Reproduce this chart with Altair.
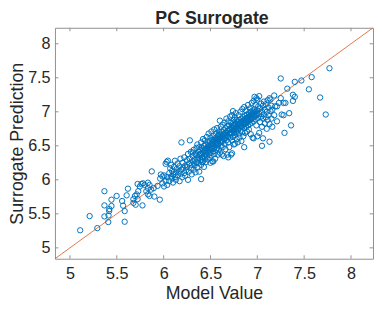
import altair as alt
import pandas as pd

# ---- data (model value, surrogate prediction) ----
pts_low = [(5.109,5.258),(5.21,5.467),(5.292,5.29),(5.368,5.833),(5.368,5.624),(5.368,5.462),
           (5.409,5.379),(5.412,5.476),(5.419,5.541),(5.42,5.57),(5.443,5.708),(5.443,5.615),
           (5.498,5.763),(5.557,5.689),(5.567,5.62),(5.584,5.541),(5.584,5.384),(5.605,5.772),
           (5.619,5.87),(5.677,5.717),(5.677,5.661),(5.694,5.763),(5.701,5.634),(5.712,5.786),
           (5.722,5.939),(5.722,5.717),(5.729,5.833),(5.746,5.902),(5.763,5.939),(5.774,5.624),
           (5.780,5.948),(5.798,5.925),(5.815,5.833),(5.832,5.958),(5.832,5.879),(5.832,5.786),
           (5.849,5.925),(5.849,5.763),(5.866,5.856),(5.873,6.124),(5.894,5.879),(5.901,5.754),
           (5.935,5.911),(5.959,5.708),(5.963,6.018),(5.970,6.078),(5.987,6.050),(5.987,5.948),
           (6.004,6.064),(6.004,5.902),(6.021,6.235),(6.021,5.985),(6.032,6.263),(6.038,6.041),
           (6.038,5.925),(6.045,6.282)]

pts_b = [(6.06,6.10),(6.06,5.98),(6.07,6.17),(6.08,6.05),(6.08,6.22),(6.09,6.02),(6.09,6.13),
         (6.10,5.96),(6.10,6.08),(6.11,6.19),(6.12,6.04),(6.12,6.28),(6.13,6.11),(6.13,6.00),
         (6.14,6.16),(6.15,6.07),(6.15,6.24),(6.16,6.12),(6.17,5.98),(6.17,6.20),(6.18,6.09),
         (6.18,6.31),(6.19,6.55),(6.19,6.15),(6.20,6.04),(6.20,6.25),(6.21,6.18),(6.22,6.10),
         (6.22,6.33),(6.23,6.21),(6.23,6.06),(6.24,6.14),(6.25,6.29),(6.25,6.19),(6.26,6.00),
         (6.26,6.38),(6.27,6.12),(6.27,6.24),(6.28,6.58),(6.28,6.31),(6.29,6.17),(6.29,6.41),
         (6.30,6.22),(6.30,6.08),(6.31,6.35),(6.31,6.27),(6.32,6.15),(6.32,6.44),(6.33,6.30),
         (6.33,6.21),(6.34,6.38),(6.34,6.11),(6.35,6.26),(6.35,6.47)]

pts_c = [(6.36,6.30),(6.36,6.52),(6.36,6.18),(6.37,6.41),(6.37,6.25),(6.38,6.36),(6.38,6.48),
         (6.38,6.12),(6.39,6.29),(6.39,6.44),(6.40,6.01),(6.40,6.38),(6.40,6.55),(6.40,6.22),
         (6.41,6.33),(6.41,6.47),(6.42,6.40),(6.42,6.27),(6.42,6.60),(6.43,6.35),(6.43,6.50),
         (6.43,6.19),(6.44,6.44),(6.44,6.31),(6.44,6.58),(6.45,6.39),(6.45,6.52),(6.45,6.26),
         (6.46,6.46),(6.46,6.35),(6.46,6.63),(6.47,6.41),(6.47,6.55),(6.47,6.30),(6.48,6.50),
         (6.48,6.38),(6.48,6.68),(6.49,6.44),(6.49,6.57),(6.49,6.33),(6.50,6.25),(6.50,6.48),
         (6.50,6.62),(6.50,6.40),(6.51,6.53),(6.51,6.36),(6.51,6.71),(6.52,6.46),(6.52,6.59),
         (6.52,6.27),(6.53,6.27),(6.53,6.50),(6.53,6.65),(6.53,6.42),(6.54,6.56),(6.54,6.38),
         (6.54,6.74),(6.55,6.49),(6.55,6.61),(6.55,6.31),(6.56,6.54),(6.56,6.68),(6.56,6.44),
         (6.57,6.76),(6.57,6.58),(6.57,6.47),(6.58,6.52),(6.58,6.64),(6.58,6.37),(6.59,6.60),
         (6.59,6.71),(6.59,6.45),(6.60,6.87),(6.60,6.55),(6.60,6.67),(6.60,6.40),(6.61,6.62),
         (6.61,6.50),(6.61,6.78),(6.62,6.37),(6.62,6.58),(6.62,6.70),(6.63,6.64),(6.63,6.48),
         (6.63,6.81),(6.64,6.35),(6.64,6.60),(6.64,6.73)]

pts_d = [(6.65,6.67),(6.65,6.53),(6.65,6.84),(6.66,6.62),(6.66,6.76),(6.66,6.45),(6.67,6.70),
         (6.67,6.58),(6.67,6.90),(6.68,6.37),(6.68,6.65),(6.68,6.79),(6.69,6.33),(6.69,6.72),
         (6.69,6.55),(6.69,6.86),(6.70,6.68),(6.70,6.80),(6.70,6.48),(6.71,6.74),(6.71,6.62),
         (6.71,6.93),(6.72,6.37),(6.72,6.70),(6.72,6.84),(6.73,6.39),(6.73,6.77),(6.73,6.58),
         (6.73,6.95),(6.74,7.01),(6.74,6.73),(6.74,6.63),(6.75,6.80),(6.75,6.69),(6.75,6.88),
         (6.75,6.52),(6.76,6.53),(6.76,6.76),(6.76,6.92),(6.76,6.66),(6.77,6.82),(6.77,6.71),
         (6.77,6.98),(6.78,6.60),(6.78,6.78),(6.78,6.88),(6.79,6.85),(6.79,6.74),(6.79,6.55),
         (6.80,6.81),(6.80,6.95),(6.80,6.68),(6.81,6.88),(6.81,6.77),(6.81,6.62),(6.82,6.84),
         (6.82,6.72),(6.82,7.00),(6.83,6.57),(6.83,6.90),(6.83,6.79),(6.84,6.86),(6.84,6.70),
         (6.84,7.04),(6.85,6.92),(6.85,6.81),(6.85,6.64),(6.86,6.48),(6.86,6.88),(6.86,6.76),
         (6.86,7.07),(6.87,6.94),(6.87,6.83),(6.87,6.69),(6.88,6.90),(6.88,6.78),(6.88,7.02),
         (6.89,6.96),(6.89,6.85),(6.89,6.71),(6.90,6.92),(6.90,6.80),(6.90,7.10),(6.91,6.98),
         (6.91,6.87),(6.91,6.74),(6.92,6.94),(6.92,6.82),(6.92,7.05),(6.93,7.00),(6.93,6.89),
         (6.93,6.67),(6.94,6.96),(6.94,6.84),(6.94,7.13),(6.95,6.62),(6.95,7.02),(6.95,6.91),
         (6.96,6.61),(6.96,6.98),(6.96,6.86),(6.96,7.16),(6.97,7.22),(6.97,7.04),(6.97,6.93),
         (6.98,7.00),(6.98,6.89),(6.98,7.10),(6.99,7.20),(6.99,6.95),(6.99,6.80)]

pts_core = [(6.31,6.40),(6.33,6.24),(6.35,6.36),(6.37,6.33),(6.39,6.38),(6.41,6.26),(6.42,6.46),
            (6.44,6.37),(6.45,6.46),(6.47,6.48),(6.48,6.44),(6.49,6.52),(6.51,6.46),(6.52,6.53),
            (6.53,6.58),(6.54,6.47),(6.55,6.55),(6.56,6.60),(6.57,6.52),(6.58,6.58),(6.59,6.66),
            (6.60,6.61),(6.61,6.56),(6.62,6.64),(6.63,6.57),(6.64,6.67),(6.65,6.61),(6.66,6.69),
            (6.67,6.64),(6.68,6.72),(6.69,6.63),(6.70,6.74),(6.71,6.69),(6.72,6.77),(6.73,6.68),
            (6.74,6.80),(6.75,6.74),(6.76,6.83),(6.77,6.77),(6.78,6.70),(6.79,6.80),(6.80,6.75),
            (6.81,6.83),(6.82,6.78),(6.83,6.85),(6.84,6.78),(6.85,6.87),(6.86,6.82),(6.87,6.89),
            (6.88,6.84),(6.89,6.91),(6.90,6.86),(6.91,6.93),(6.92,6.88),(6.93,6.95),(6.94,6.90),
            (6.95,6.97),(6.97,6.99),(6.98,6.95),(7.00,6.97)]

pts_e = [(7.00,7.18),(7.00,6.64),(7.00,7.02),(7.01,6.91),(7.01,7.08),(7.02,7.23),(7.02,6.69),
         (7.02,6.97),(7.03,7.05),(7.03,6.85),(7.04,6.93),(7.04,7.12),(7.05,6.50),(7.05,7.00),
         (7.05,6.78),(7.06,6.61),(7.06,7.09),(7.06,6.90),(7.07,6.96),(7.07,7.15),(7.08,6.83),
         (7.08,7.03),(7.09,7.11),(7.09,6.92),(7.10,6.75),(7.10,7.00),(7.11,7.17),(7.11,6.88),
         (7.12,6.95),(7.12,7.06),(7.13,6.56),(7.13,7.20),(7.13,6.82),(7.14,7.18),(7.14,7.01),
         (7.15,6.90),(7.15,7.09),(7.16,7.03),(7.16,6.78),(7.18,7.24),(7.18,6.95),(7.19,7.08),
         (7.21,7.08),(7.21,6.86),(7.23,7.13),(7.25,7.20),(7.25,7.49),(7.26,6.96),(7.28,6.95),
         (7.28,7.13),(7.29,6.69)]

pts_high = [(7.30,7.13),(7.32,7.34),(7.34,6.98),(7.36,6.80),(7.38,7.25),(7.38,7.16),(7.40,7.22),
            (7.40,7.44),(7.47,7.46),(7.55,7.33),(7.58,7.51),(7.67,7.21),(7.73,6.96),(7.77,7.64)]

tick_values = [5, 5.5, 6, 6.5, 7, 7.5, 8]
axis_limits = [4.84, 8.235]
title_text = ["PC Surrogate"]

all_pts = pts_low + pts_b + pts_c + pts_d + pts_core + pts_e + pts_high
df = pd.DataFrame(all_pts, columns=["model", "pred"])
line_df = pd.DataFrame({"v": axis_limits})
ticks_df = pd.DataFrame({"t": tick_values})
title_df = pd.DataFrame({"label": title_text})

W, H = 325, 236
FONT = "Liberation Sans"
TXT = "#262626"
AX = "#8f8f8f"
TL = 3.5

xs = alt.Scale(domain=axis_limits, nice=False, zero=False)
ys = alt.Scale(domain=axis_limits, nice=False, zero=False)

common = dict(values=tick_values, format=".1~f", grid=False, domain=False, ticks=False,
              tickSize=0, labelFont=FONT, labelFontSize=16.5, labelColor=TXT,
              titleFont=FONT, titleFontSize=18.15, titleFontWeight="normal",
              titleColor=TXT, labelOverlap=False, labelFlush=False,
              titleBaseline="alphabetic")
xaxis = alt.Axis(title="Model Value", labelPadding=7.5, titleY=40.7, **common)
yaxis = alt.Axis(title="Surrogate Prediction", labelPadding=5, titleX=-33.3, **common)

X = lambda f: alt.X(f, type="quantitative", scale=xs, axis=xaxis)
Y = lambda f: alt.Y(f, type="quantitative", scale=ys, axis=yaxis)

points = alt.Chart(df).mark_point(shape="circle", filled=False, color="#0072BD",
                                  size=30, strokeWidth=1, opacity=1).encode(
    x=X("model"), y=Y("pred"))

diag = alt.Chart(line_df).mark_line(color="#D95319", strokeWidth=0.8, clip=True).encode(
    x=X("v"), y=Y("v"))

tb = alt.Chart(ticks_df).mark_rule(color=AX, strokeWidth=1).encode(
    x=X("t"), y=alt.value(H), y2=alt.value(H - TL))
tt = alt.Chart(ticks_df).mark_rule(color=AX, strokeWidth=1).encode(
    x=X("t"), y=alt.value(0), y2=alt.value(TL))
tl = alt.Chart(ticks_df).mark_rule(color=AX, strokeWidth=1).encode(
    y=Y("t"), x=alt.value(0), x2=alt.value(TL))
tr = alt.Chart(ticks_df).mark_rule(color=AX, strokeWidth=1).encode(
    y=Y("t"), x=alt.value(W), x2=alt.value(W - TL))

title = alt.Chart(title_df).mark_text(font=FONT, fontSize=18.15, fontWeight="bold",
                                      color=TXT, align="center", baseline="alphabetic").encode(
    text="label:N", x=alt.value(W / 2 - 2), y=alt.value(-3.5))

chart = alt.layer(diag, points, tb, tt, tl, tr, title).properties(
    width=W, height=H,
    autosize=alt.AutoSizeParams(type="none"),
    padding={"left": 48, "top": 17, "right": 1, "bottom": 41},
).configure_view(stroke=AX, strokeWidth=1)

chart.save("out.html", embed_options={"renderer": "svg", "actions": False})
